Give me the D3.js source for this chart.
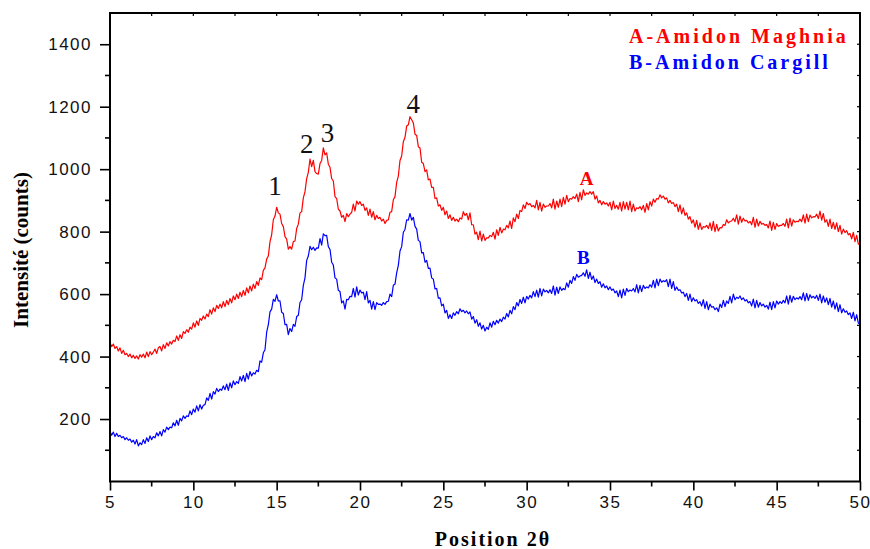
<!DOCTYPE html>
<html><head><meta charset="utf-8">
<script src="https://cdn.jsdelivr.net/npm/d3@7"></script>
<style>body{margin:0;background:#fff}svg{display:block}</style>
</head><body>
<svg id="c" width="870" height="549"></svg>
<script>
// 2θ grid: 5.0 to 50.0 step 0.1
const thetaStart = 5, thetaStep = 0.1;
const seriesA = [
445,432,440,426,432,418,428,410,420,406,
410,400,408,396,404,394,402,392,406,398,
408,396,414,400,416,406,414,424,410,428,
432,418,438,426,444,434,448,440,452,448,
466,452,470,458,480,474,486,478,494,488,
508,494,514,500,522,516,530,520,536,528,
550,536,556,544,564,554,568,556,576,560,
580,566,586,572,594,582,600,586,606,592,
612,596,620,604,626,610,632,618,640,628,
652,646,676,684,712,722,768,790,838,850,
878,860,856,826,816,784,776,744,752,744,
768,770,810,824,860,864,908,928,970,990,
1032,1008,1028,992,986,984,1018,1028,1068,1046,
1052,1016,1006,970,962,912,906,872,866,846,
852,832,858,848,856,862,888,866,898,888,
896,884,888,868,876,852,872,846,864,838,
852,842,846,834,840,826,836,838,862,864,
902,912,958,978,1028,1042,1088,1102,1138,1142,
1168,1158,1148,1112,1108,1072,1068,1022,1018,992,
998,966,968,942,942,906,908,882,886,868,
878,854,866,842,854,836,846,834,840,832,
844,840,864,852,858,838,860,822,822,792,
798,774,802,770,792,772,780,780,788,784,
798,776,806,788,814,796,808,806,820,812,
834,810,844,832,856,842,868,864,886,874,
894,886,890,880,884,876,900,870,894,866,
888,878,882,882,890,876,904,872,898,878,
904,880,910,888,916,896,906,904,912,906,
920,896,926,902,934,916,924,920,928,920,
928,904,914,892,900,886,896,888,892,882,
894,870,898,874,884,872,894,866,896,872,
894,870,898,864,888,866,876,874,880,870,
884,862,890,870,896,882,904,894,906,904,
918,908,914,904,908,892,900,890,893,880,
888,864,886,857,876,852,860,840,848,827,
838,814,836,807,828,807,816,814,820,810,
828,804,833,800,823,802,813,812,823,820,
838,828,833,834,843,832,854,824,850,830,
843,834,836,828,833,822,846,814,840,818,
833,824,826,820,823,812,834,804,830,807,
826,817,820,820,826,817,840,812,843,818,
838,830,833,832,840,832,854,827,856,832,
853,844,848,847,856,842,866,837,858,830,
838,817,840,810,830,807,828,800,820,792,
808,797,803,790,794,777,798,768,788,760,
760];
const seriesB = [
160,148,158,144,154,144,148,140,144,134,
140,132,136,126,132,120,134,114,124,118,
134,122,140,128,146,134,144,140,156,146,
160,146,166,158,174,166,174,172,188,178,
196,180,202,194,210,202,210,208,226,214,
232,222,242,226,246,232,244,246,268,260,
282,264,288,280,298,288,296,292,306,294,
312,292,316,300,322,310,320,314,336,322,
340,320,346,328,352,338,348,344,356,352,
386,382,412,422,478,502,543,552,583,577,
598,578,578,542,538,502,503,470,490,480,
503,497,528,532,573,582,628,652,708,722,
753,742,750,740,748,747,778,757,793,787,
788,752,743,702,693,652,648,612,608,572,
578,552,583,582,593,592,618,590,623,597,
613,604,606,582,608,572,580,552,576,550,
573,567,568,564,573,567,576,577,600,592,
628,632,668,692,738,752,798,807,838,837,
858,837,846,817,808,772,768,732,733,702,
708,682,683,652,648,617,618,587,588,562,
568,540,548,522,534,522,540,532,544,537,
553,544,548,540,546,537,543,520,528,507,
518,497,508,488,500,482,494,487,508,494,
513,502,516,507,520,512,526,520,538,527,
548,537,560,550,573,562,583,570,590,572,
593,584,596,588,608,592,613,590,618,594,
616,607,612,604,614,602,626,597,622,602,
623,612,618,614,636,622,644,634,656,644,
663,654,658,660,668,657,678,650,670,647,
658,637,648,634,640,622,633,620,626,614,
623,612,616,604,610,592,613,588,616,596,
618,608,613,610,618,607,630,604,628,608,
628,618,623,620,630,622,644,620,648,627,
648,638,643,640,646,624,648,618,640,612,
623,612,614,604,606,592,602,580,600,576,
588,578,582,570,576,562,582,554,576,550,
568,558,560,550,556,544,568,557,580,560,
578,570,593,572,600,582,590,586,594,582,
588,578,582,572,576,562,584,556,580,558,
573,562,568,558,564,552,574,550,576,556,
578,568,576,570,580,572,594,568,596,574,
593,582,588,584,592,582,604,578,602,580,
598,588,593,586,596,580,600,572,594,574,
588,566,586,558,578,552,572,544,566,540,
553,542,546,534,540,522,542,514,534,507,
505];
const xTicks = [5,10,15,20,25,30,35,40,45,50];
const yTicks = [200,400,600,800,1000,1200,1400];
const peakLabels = ["1","2","3","4"];
const peakTheta = [14.9,16.8,18.05,23.2];
const peakCounts = [917,1051,1086,1179];
const legendLabels = ["A-Amidon Maghnia","B-Amidon Cargill"];
const curveTags = ["A","B"];
const curveTagTheta = [33.6,33.4];
const curveTagCounts = [950,695];
const colors = ["#ff0000","#0000ff"];

const svg = d3.select("#c");
const L = 110, R = 860, T = 13, B = 481.5;
const x = d3.scaleLinear().domain([5,50]).range([L,R]);
const y = d3.scaleLinear().domain([0,1500]).range([B,T]);
const toPts = arr => arr.map((v,i)=>[thetaStart + i*thetaStep, v]);
const line = d3.line().x(d=>x(d[0])).y(d=>y(d[1]));

[seriesA, seriesB].forEach((s,i)=>{
  svg.append("path").attr("d", line(toPts(s))).attr("fill","none")
    .attr("stroke", colors[i]).attr("stroke-width",1.2).attr("stroke-linejoin","round");
});

// frame
svg.append("rect").attr("x",L).attr("y",T).attr("width",R-L).attr("height",B-T)
  .attr("fill","none").attr("stroke","#000").attr("stroke-width",2);

const tickFont = "'Liberation Sans', Arial, sans-serif";
const fmt = d3.format("d");
// bottom axis
const xAx = svg.append("g").attr("transform",`translate(0,${B})`)
  .call(d3.axisBottom(x).tickValues(xTicks).tickFormat(fmt).tickSize(9).tickSizeOuter(0).tickPadding(5));
xAx.select(".domain").remove();
xAx.selectAll("line").attr("stroke-width",1.6);
xAx.selectAll("text").attr("font-family",tickFont).attr("font-size",17).attr("letter-spacing",1.5).attr("fill","#111");
const xMinor = d3.range(7.5,50,5);
svg.append("g").selectAll("line").data(xMinor).join("line")
  .attr("x1",d=>x(d)).attr("x2",d=>x(d)).attr("y1",B).attr("y2",B+5)
  .attr("stroke","#000").attr("stroke-width",1.6);
// top inward ticks
svg.append("g").selectAll("line").data(d3.range(7.5,50,2.5)).join("line")
  .attr("x1",d=>x(d)).attr("x2",d=>x(d)).attr("y1",T).attr("y2",T+3)
  .attr("stroke","#000").attr("stroke-width",1.2);

// left axis
const yAx = svg.append("g").attr("transform",`translate(${L},0)`)
  .call(d3.axisLeft(y).tickValues(yTicks).tickFormat(fmt).tickSize(10).tickSizeOuter(0).tickPadding(8));
yAx.select(".domain").remove();
yAx.selectAll("line").attr("stroke-width",1.6);
yAx.selectAll("text").attr("font-family",tickFont).attr("font-size",17).attr("letter-spacing",1.5).attr("fill","#111");
const yMinor = d3.range(100,1500,200);
svg.append("g").selectAll("line").data(yMinor).join("line")
  .attr("x1",L-5).attr("x2",L).attr("y1",d=>y(d)).attr("y2",d=>y(d))
  .attr("stroke","#000").attr("stroke-width",1.6);
// right inward ticks
svg.append("g").selectAll("line").data(d3.range(100,1500,100)).join("line")
  .attr("x1",R-3).attr("x2",R).attr("y1",d=>y(d)).attr("y2",d=>y(d))
  .attr("stroke","#000").attr("stroke-width",1.2);

const serif = "'Liberation Serif','Times New Roman',serif";
// axis titles
svg.append("text").attr("x",(L+R)/2+8).attr("y",546).attr("text-anchor","middle")
  .attr("font-family",serif).attr("font-weight","bold").attr("font-size",20).attr("letter-spacing",2)
  .text("Position 2θ");
svg.append("text").attr("transform","translate(28,250) rotate(-90)").attr("text-anchor","middle")
  .attr("font-family",serif).attr("font-weight","bold").attr("font-size",21)
  .text("Intensité (counts)");

// peak labels
svg.append("g").selectAll("text").data(peakLabels).join("text")
  .attr("x",(d,i)=>x(peakTheta[i])).attr("y",(d,i)=>y(peakCounts[i]))
  .attr("text-anchor","middle").attr("font-family",serif).attr("font-size",27).attr("fill","#111")
  .text(d=>d);

// curve tags
svg.append("g").selectAll("text").data(curveTags).join("text")
  .attr("x",(d,i)=>x(curveTagTheta[i])).attr("y",(d,i)=>y(curveTagCounts[i]))
  .attr("text-anchor","middle").attr("font-family",serif).attr("font-weight","bold").attr("font-size",19)
  .attr("fill",(d,i)=>colors[i]).text(d=>d);

// legend
svg.append("g").selectAll("text").data(legendLabels).join("text")
  .attr("x",629).attr("y",(d,i)=>43+i*26)
  .attr("font-family",serif).attr("font-weight","bold").attr("font-size",20).attr("letter-spacing",3)
  .attr("fill",(d,i)=>colors[i]).text(d=>d);
</script>
</body></html>
